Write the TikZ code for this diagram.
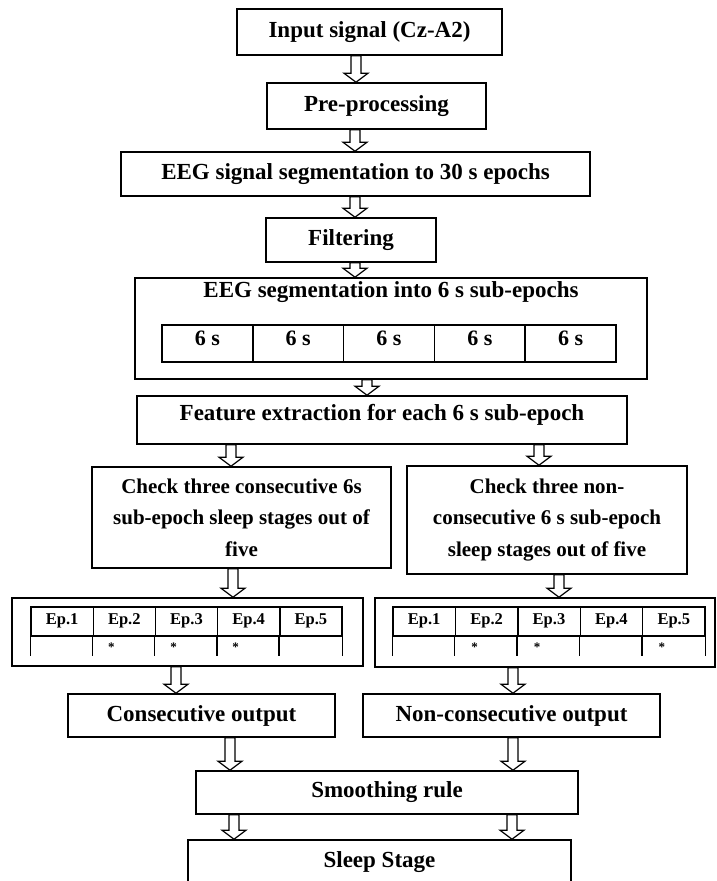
\documentclass[tikz,border=0pt]{standalone}
\usepackage{fontspec}
\setmainfont{Liberation Serif}
\usetikzlibrary{calc}

% hollow block arrow pointing down: #1 = x position, #2 = upper node, #3 = lower node
\newcommand\blockarrow[3]{%
  \draw[blockarr] let \p1=(#1,0 |- #2.south), \p2=(#3.north) in
    ({\x1-5pt},{\y1}) -- ({\x1-5pt},{\y2+9pt}) -- ({\x1-12pt},{\y2+9pt})
    -- ({\x1},{\y2}) -- ({\x1+12pt},{\y2+9pt}) -- ({\x1+5pt},{\y2+9pt})
    -- ({\x1+5pt},{\y1}) -- cycle;}

\begin{document}
\begin{tikzpicture}[x=1pt,y=-1pt,
  box/.style={draw, line width=1.6pt, inner sep=0pt, align=center,
    font=\fontsize{23}{28}\selectfont\bfseries},
  label23/.style={inner sep=0pt, font=\fontsize{23}{28}\selectfont\bfseries},
  checkbox/.style={draw, line width=1.6pt, inner sep=0pt, align=center,
    font=\fontsize{21}{31.5}\selectfont\bfseries},
  segcell/.style={draw, line width=1.5pt, inner sep=0pt,
    minimum width=90.8pt, minimum height=37pt,
    text height=15pt, text depth=11pt,
    font=\fontsize{22}{26}\selectfont\bfseries},
  epcell/.style={draw, line width=1.4pt, inner sep=0pt,
    minimum height=29pt, text height=11pt, text depth=5pt,
    font=\fontsize{16.5}{20}\selectfont\bfseries},
  starmark/.style={inner sep=0pt, font=\fontsize{13}{15}\selectfont\bfseries},
  blockarr/.style={draw=black, fill=white, line width=1.2pt, line join=miter},
]
\useasboundingbox (0,0) rectangle (716,881);
\clip (0,0) rectangle (716,881);
\fill[white] (0,0) rectangle (716,881);

% main chain of processing steps
\node[box, minimum width=265pt, minimum height=46pt] (input) at (369.5,32) {Input signal (Cz-A2)};
\node[box, minimum width=219pt, minimum height=46pt] (pre) at (376.5,106) {Pre-processing};
\node[box, minimum width=469pt, minimum height=44pt] (eegsig) at (355.5,174) {EEG signal segmentation to 30 s epochs};
\node[box, minimum width=170pt, minimum height=44pt] (filter) at (351,240) {Filtering};

% segmentation into five 6 s sub-epochs
\node[box, minimum width=512pt, minimum height=101pt] (eegseg) at (391,328.5) {};
\node[label23] (segtitle) at (391,292) {EEG segmentation into 6 s sub-epochs};
\foreach \i in {1,...,5}
  \node[segcell] (sub\i) at ({162+45.4+90.8*(\i-1)},343.5) {6 s};

\node[box, minimum width=490pt, minimum height=48pt] (feature) at (382,420) {};
\node[label23] (featuretxt) at (382,414.5) {Feature extraction for each 6 s sub-epoch};

% the two checking branches
\node[checkbox, minimum width=299pt, minimum height=101pt] (lcheck) at (241.5,517.5)
  {Check three consecutive 6s\\sub-epoch sleep stages out of\\five};
\node[checkbox, minimum width=280pt, minimum height=108pt] (rcheck) at (547,520)
  {Check three non-\\consecutive 6 s sub-epoch\\sleep stages out of five};

% epoch tables
\node[box, minimum width=351pt, minimum height=68pt] (lep) at (187.5,632) {};
\node[box, minimum width=340pt, minimum height=69pt] (rep) at (545,632.5) {};
\foreach \i in {1,...,5} {
  \node[epcell, minimum width=62.2pt] (le\i) at ({31+31.1+62.2*(\i-1)},621.5) {Ep.\i};
  \draw[line width=1.4pt] (le\i.south west) -- ++(0,19);
  \node[epcell, minimum width=62.4pt] (re\i) at ({393+31.2+62.4*(\i-1)},621.5) {Ep.\i};
  \draw[line width=1.4pt] (re\i.south west) -- ++(0,19);
}
\draw[line width=1.4pt] (le5.south east) -- ++(0,19);
\draw[line width=1.4pt] (re5.south east) -- ++(0,19);
\foreach \i in {2,3,4}
  \node[starmark] (lstar\i) at ($(le\i.center)+(-13,25.5)$) {*};
\foreach \i in {2,3,5}
  \node[starmark] (rstar\i) at ($(re\i.center)+(-12,25.5)$) {*};

% outputs and final stage
\node[box, minimum width=267pt, minimum height=43pt] (consec) at (201.5,715.5) {Consecutive output};
\node[box, minimum width=297pt, minimum height=43pt] (nonconsec) at (511.5,715.5) {Non-consecutive output};
\node[box, minimum width=382pt, minimum height=43pt] (smooth) at (387,792.5) {Smoothing rule};
\node[box, minimum width=383pt, minimum height=44pt] (sleep) at (379.5,862) {Sleep Stage};

% connectors
\blockarrow{356}{input}{pre}
\blockarrow{355}{pre}{eegsig}
\blockarrow{355}{eegsig}{filter}
\blockarrow{355}{filter}{eegseg}
\blockarrow{367}{eegseg}{feature}
\blockarrow{231}{feature}{lcheck}
\blockarrow{539}{feature}{rcheck}
\blockarrow{233}{lcheck}{lep}
\blockarrow{559}{rcheck}{rep}
\blockarrow{176}{lep}{consec}
\blockarrow{513}{rep}{nonconsec}
\blockarrow{230}{consec}{smooth}
\blockarrow{513}{nonconsec}{smooth}
\blockarrow{234}{smooth}{sleep}
\blockarrow{512}{smooth}{sleep}
\end{tikzpicture}
\end{document}
